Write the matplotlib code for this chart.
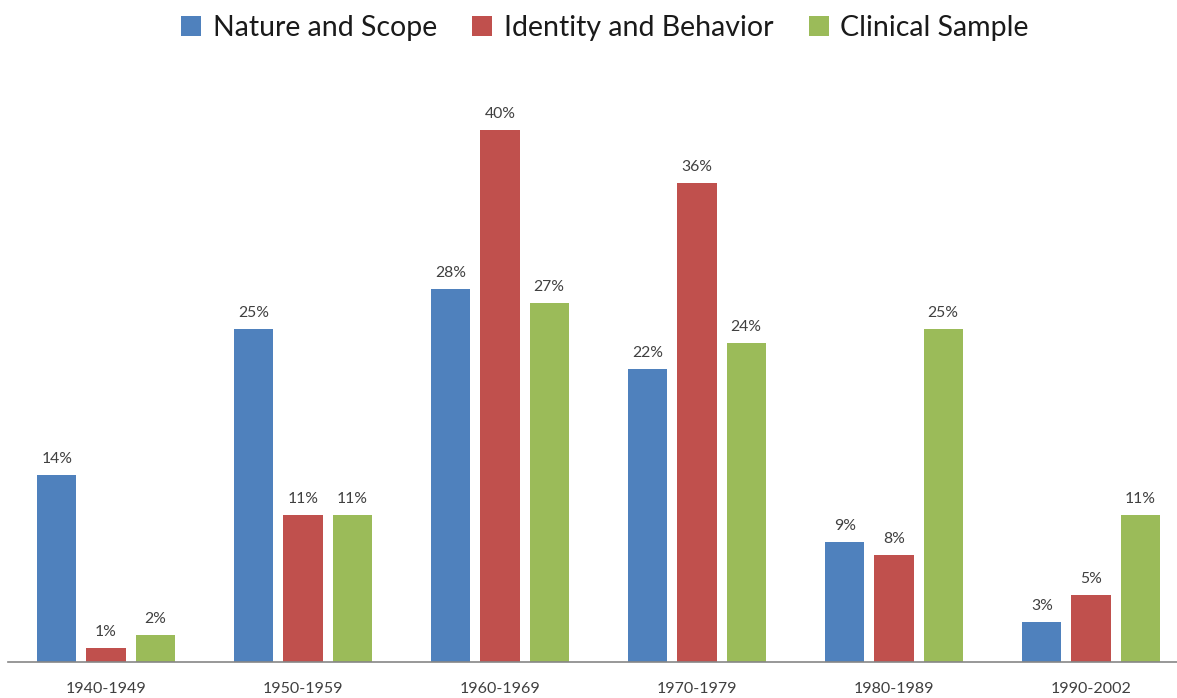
import matplotlib
matplotlib.use("Agg")
import matplotlib.pyplot as plt
import numpy as np

# Share of studies per decade, by research focus (%)
decades = ["1940-1949", "1950-1959", "1960-1969", "1970-1979", "1980-1989", "1990-2002"]
nature_scope = [14, 25, 28, 22, 9, 3]
identity_behavior = [1, 11, 40, 36, 8, 5]
clinical_sample = [2, 11, 27, 24, 25, 11]

series_names = ["Nature and Scope", "Identity and Behavior", "Clinical Sample"]
series_values = [nature_scope, identity_behavior, clinical_sample]
colors = ["#4F81BD", "#C0504D", "#9BBB59"]

plt.rcParams["font.family"] = ["Lato", "DejaVu Sans"]

fig = plt.figure(figsize=(11.77, 6.98), dpi=100)
W, H = 1177, 698
left_px, right_px = 7.5, 1189.5
base_px, top_px = 661.5, 661.5 - 45 * 13.29
ax = fig.add_axes([left_px / W, (H - base_px) / H,
                   (right_px - left_px) / W, (base_px - top_px) / H])

x = np.arange(len(decades))
pitch = 0.249
width = 0.198
text_color = "#404040"

handles = []
for i, (name, vals, c) in enumerate(zip(series_names, series_values, colors)):
    pos = x + (i - 1) * pitch
    bars = ax.bar(pos, vals, width=width, color=c, label=name, zorder=2)
    handles.append(bars)
    for xp, v in zip(pos, vals):
        ax.annotate(f"{v}%", (xp, v), xytext=(0, 6.5), textcoords="offset points",
                    ha="center", va="bottom", fontsize=11.3, color=text_color)

ax.set_xlim(-0.5, len(decades) - 0.5)
ax.set_ylim(0, 45)
ax.set_xticks(x)
ax.set_xticklabels(decades, fontsize=11.5, color=text_color)
ax.tick_params(axis="x", length=0, pad=15)
ax.set_yticks([])
for s in ["top", "right", "left"]:
    ax.spines[s].set_visible(False)
ax.spines["bottom"].set_color("#868686")
ax.spines["bottom"].set_linewidth(1.2)

fig.legend(handles, series_names, loc="upper center", bbox_to_anchor=(0.514, 1.015),
           ncol=3, frameon=False, fontsize=20.5, handlelength=0.7, handleheight=0.7,
           handletextpad=0.4, columnspacing=1.25, labelcolor="#1a1a1a")

fig.savefig("out.png", dpi=100)
